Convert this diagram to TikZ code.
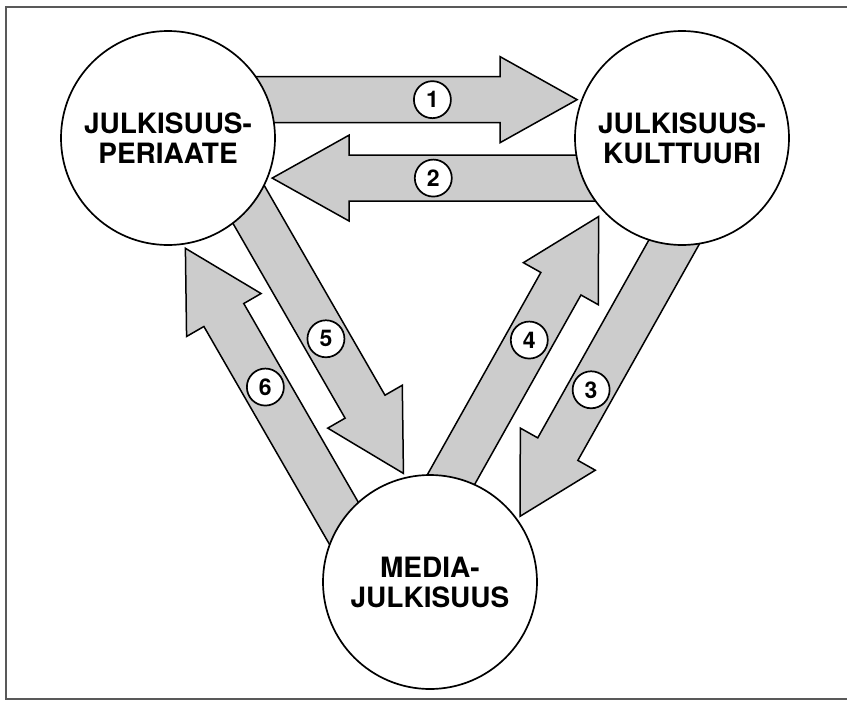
\documentclass[tikz,border=0pt]{standalone}
\usepackage{fontspec}
\setsansfont{TeX Gyre Heros}
\usetikzlibrary{calc,backgrounds}

\begin{document}
\begin{tikzpicture}[x=1pt,y=-1pt,
  bigcirc/.style={circle,draw,line width=1.7pt,fill=white,minimum size=214pt,inner sep=0pt,outer sep=0pt,align=center,font=\sffamily\bfseries\fontsize{28}{30}\selectfont},
  flow/.style={draw,line width=1.5pt,fill=black!20,line join=miter},
  numcirc/.style={circle,draw,line width=1.7pt,fill=white,minimum size=37pt,inner sep=0pt,font=\sffamily\bfseries\fontsize{23}{23}\selectfont}]

\useasboundingbox (0,0) rectangle (847,702);

% Frame
\draw[line width=1.5pt,black!65] (847,7) -- (6,7) -- (6,699) -- (847,699);

% Define circles
\node[bigcirc] (A) at (168,138) {JULKISUUS-\\PERIAATE};
\node[bigcirc] (B) at (682,138) {JULKISUUS-\\KULTTUURI};
\node[bigcirc] (C) at (430,582) {MEDIA-\\JULKISUUS};

% Arrow sizes
\def\shaftw{23pt}
\def\headw{43pt}
\def\headlen{77pt}

% Arrows between the circles (behind them)
\begin{pgfonlayer}{background}
\foreach \s/\e/\g/\lab/\p in {A.21/B.159/5pt/1/0.567, B.-158/A.-22/5pt/2/0.52, B.-95/C.35/5pt/3/0.569, C.78/B.-138/8pt/4/0.563, A.-40/C.103/5pt/5/0.533, C.145/A.-82/5pt/6/0.528}{
  \coordinate (tip) at ($(\e)!\g!(\s)$);
  \coordinate (tail) at ($(\s)!-25pt!(\e)$);
  \coordinate (base) at ($(tip)!\headlen!(tail)$);
  \draw[flow] ($(tail)!\shaftw!90:(tip)$) -- ($(base)!\shaftw!90:(tip)$) -- ($(base)!\headw!90:(tip)$) -- (tip)
    -- ($(base)!\headw!-90:(tip)$) -- ($(base)!\shaftw!-90:(tip)$) -- ($(tail)!\shaftw!-90:(tip)$) -- cycle;
  \path (tail) -- (tip) node[numcirc,pos=\p] (n\lab) {\lab};
}
\end{pgfonlayer}

\end{tikzpicture}
\end{document}
